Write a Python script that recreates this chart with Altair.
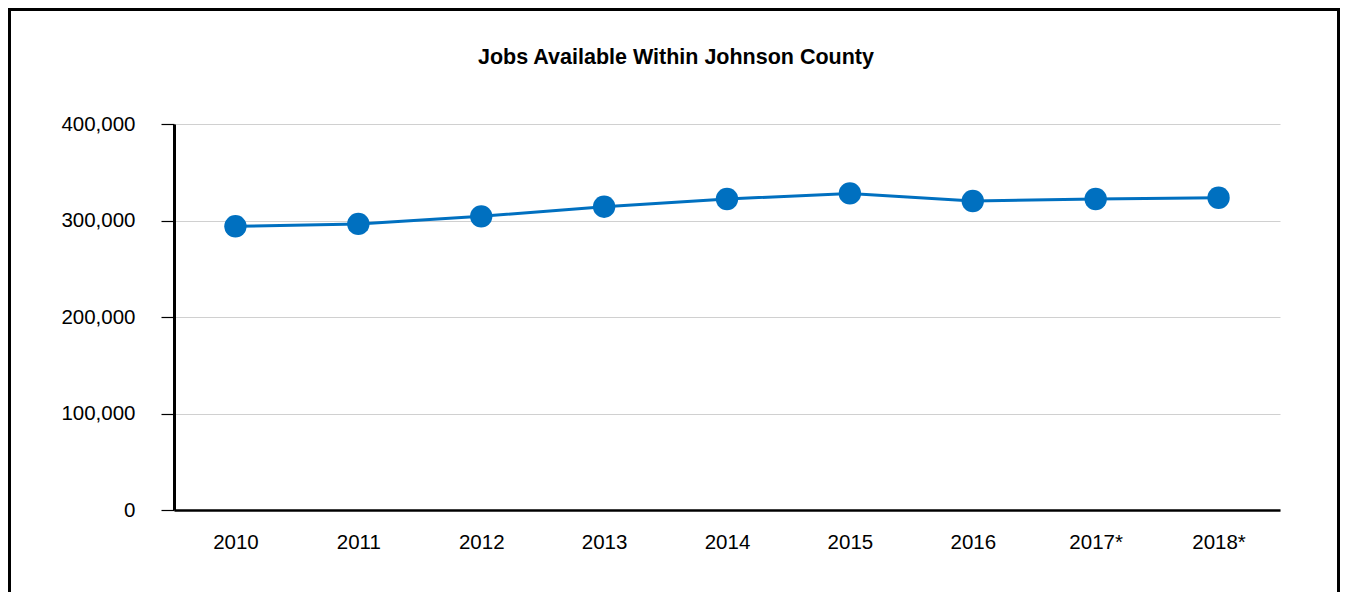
import altair as alt
import pandas as pd

years = ["2010", "2011", "2012", "2013", "2014", "2015", "2016", "2017*", "2018*"]
jobs = [294000, 296500, 304300, 314300, 322300, 328100, 320200, 322300, 323600]
title_text = "Jobs Available Within Johnson County"

df = pd.DataFrame({"year": years, "jobs": jobs})
FONT = "Liberation Sans"
BLUE = "#0070C0"

base = alt.Chart(df).encode(
    x=alt.X("year:N", sort=years, title=None,
            scale=alt.Scale(type="point", padding=0.5),
            axis=alt.Axis(labelAngle=0, ticks=False, labelPadding=22, grid=False,
                          domainColor="black", domainWidth=2.5,
                          labelFont=FONT, labelFontSize=20.5, labelColor="black")),
    y=alt.Y("jobs:Q", title=None,
            scale=alt.Scale(domain=[0, 400000], nice=False),
            axis=alt.Axis(values=[0, 100000, 200000, 300000, 400000], format=",d",
                          tickSize=13, tickColor="black", tickWidth=1.2,
                          domainColor="black", domainWidth=3,
                          labelPadding=26, labelFont=FONT, labelFontSize=20.5,
                          labelColor="black", gridColor="#d0d0d0", gridWidth=1)),
)

line = base.mark_line(color=BLUE, strokeWidth=3)
pts = base.mark_circle(color=BLUE, size=500, opacity=1)

single = pd.DataFrame({"t": [title_text]})
frame = alt.Chart(single).mark_rect(
    filled=False, stroke="black", strokeWidth=3
).encode(x=alt.value(-164.5), x2=alt.value(1164.5), y=alt.value(-114.5), y2=alt.value(520))

title = alt.Chart(single).mark_text(
    font=FONT, fontSize=21.5, fontWeight="bold", color="black",
    align="center", baseline="alphabetic"
).encode(text="t:N", x=alt.value(502), y=alt.value(-59.7))

chart = alt.layer(line, pts, frame, title).properties(
    width=1106, height=386,
    autosize=alt.AutoSizeParams(type="none"),
    padding={"left": 166, "top": 116, "right": 60, "bottom": 82},
).configure_view(stroke=None)

chart.save("out.html", embed_options={"renderer": "svg", "actions": False})
